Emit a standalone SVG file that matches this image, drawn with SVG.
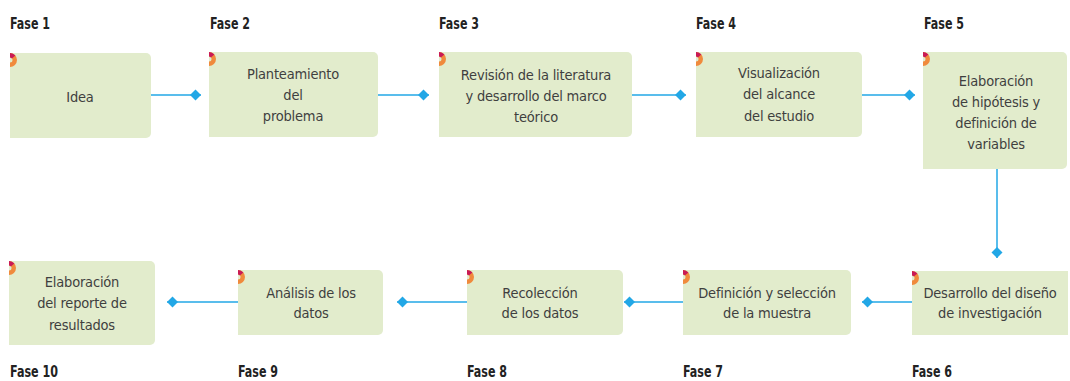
<svg xmlns="http://www.w3.org/2000/svg" width="1070" height="381" viewBox="0 0 1070 381">
<style>
.box{fill:#e2eccc}
.t{font-family:"DejaVu Sans Condensed","DejaVu Sans",sans-serif;font-stretch:condensed;font-size:14.5px;letter-spacing:-0.2px;fill:#3f3f3f;text-anchor:middle}
.f{font-family:"DejaVu Sans Condensed","DejaVu Sans",sans-serif;font-stretch:condensed;font-weight:bold;font-size:16px;fill:#222}
.c{fill:none;stroke:#22a7e6;stroke-width:1.5}
.o{fill:#f08a3c}
.m{fill:#c91a55}
</style>
<defs>
<marker id="d" markerUnits="userSpaceOnUse" markerWidth="14" markerHeight="14" viewBox="0 -7 14 14" refX="12" refY="0" orient="auto">
<path d="M1,0 L6.5,-5.5 L12,0 L6.5,5.5 Z" fill="#22a7e6"/>
</marker>
<g id="mk">
<path class="o" d="M0,-7 A7,7 0 0 1 0,7 L0,2.5 A2.5,2.5 0 0 0 0,-2.5 Z"/>
<path class="m" d="M0,-7 A7,7 0 0 1 5.4,-4.5 L1.9,-1.6 A2.5,2.5 0 0 0 0,-2.5 Z"/>
</g>
</defs>
<g id="connectors">
<path class="c" d="M151,95 H201" marker-end="url(#d)"/>
<path class="c" d="M378,95 H429" marker-end="url(#d)"/>
<path class="c" d="M632,95 H686" marker-end="url(#d)"/>
<path class="c" d="M862,95 H915" marker-end="url(#d)"/>
<path class="c" d="M997,169 V258" marker-end="url(#d)"/>
<path class="c" d="M912,302 H862" marker-end="url(#d)"/>
<path class="c" d="M683,302 H624" marker-end="url(#d)"/>
<path class="c" d="M467,302 H397" marker-end="url(#d)"/>
<path class="c" d="M238,302 H167" marker-end="url(#d)"/>
</g>
<g id="fase1">
<text class="f" x="10" y="29" textLength="40" lengthAdjust="spacingAndGlyphs">Fase 1</text>
<path class="box" d="M10,53 H146 A5,5 0 0 1 151,58 V133 A5,5 0 0 1 146,138 H10 Z"/>
<use href="#mk" x="10" y="60"/>
<text class="t" x="80" y="102">Idea</text>
</g>
<g id="fase2">
<text class="f" x="210" y="29" textLength="40" lengthAdjust="spacingAndGlyphs">Fase 2</text>
<path class="box" d="M209,52 H373 A5,5 0 0 1 378,57 V132 A5,5 0 0 1 373,137 H209 Z"/>
<use href="#mk" x="209" y="59"/>
<text class="t" x="293" y="79">Planteamiento</text>
<text class="t" x="293" y="100">del</text>
<text class="t" x="293" y="121">problema</text>
</g>
<g id="fase3">
<text class="f" x="439" y="29" textLength="40" lengthAdjust="spacingAndGlyphs">Fase 3</text>
<path class="box" d="M439,52 H627 A5,5 0 0 1 632,57 V132 A5,5 0 0 1 627,137 H439 Z"/>
<use href="#mk" x="439" y="59"/>
<text class="t" x="536" y="80">Revisión de la literatura</text>
<text class="t" x="536" y="101">y desarrollo del marco</text>
<text class="t" x="536" y="122">teórico</text>
</g>
<g id="fase4">
<text class="f" x="696" y="29" textLength="40" lengthAdjust="spacingAndGlyphs">Fase 4</text>
<path class="box" d="M696,52 H857 A5,5 0 0 1 862,57 V132 A5,5 0 0 1 857,137 H696 Z"/>
<use href="#mk" x="696" y="59"/>
<text class="t" x="779" y="78">Visualización</text>
<text class="t" x="779" y="99">del alcance</text>
<text class="t" x="779" y="121">del estudio</text>
</g>
<g id="fase5">
<text class="f" x="924" y="29" textLength="40" lengthAdjust="spacingAndGlyphs">Fase 5</text>
<path class="box" d="M923,52 H1062 A5,5 0 0 1 1067,57 V164 A5,5 0 0 1 1062,169 H923 Z"/>
<use href="#mk" x="923" y="59"/>
<text class="t" x="996" y="86">Elaboración</text>
<text class="t" x="996" y="107">de hipótesis y</text>
<text class="t" x="996" y="128">definición de</text>
<text class="t" x="996" y="149">variables</text>
</g>
<g id="fase6">
<text class="f" x="912" y="377" textLength="40" lengthAdjust="spacingAndGlyphs">Fase 6</text>
<path class="box" d="M912,271 H1068 V335 H912 Z"/>
<use href="#mk" x="912" y="278"/>
<text class="t" x="990" y="298">Desarrollo del diseño</text>
<text class="t" x="990" y="318">de investigación</text>
</g>
<g id="fase7">
<text class="f" x="683" y="377" textLength="40" lengthAdjust="spacingAndGlyphs">Fase 7</text>
<path class="box" d="M683,270 H846 A5,5 0 0 1 851,275 V330 A5,5 0 0 1 846,335 H683 Z"/>
<use href="#mk" x="683" y="277"/>
<text class="t" x="767" y="298">Definición y selección</text>
<text class="t" x="767" y="318">de la muestra</text>
</g>
<g id="fase8">
<text class="f" x="467" y="377" textLength="40" lengthAdjust="spacingAndGlyphs">Fase 8</text>
<path class="box" d="M467,270 H618 A5,5 0 0 1 623,275 V330 A5,5 0 0 1 618,335 H467 Z"/>
<use href="#mk" x="467" y="277"/>
<text class="t" x="540" y="298">Recolección</text>
<text class="t" x="540" y="318">de los datos</text>
</g>
<g id="fase9">
<text class="f" x="238" y="377" textLength="40" lengthAdjust="spacingAndGlyphs">Fase 9</text>
<path class="box" d="M238,270 H378 A5,5 0 0 1 383,275 V330 A5,5 0 0 1 378,335 H238 Z"/>
<use href="#mk" x="238" y="277"/>
<text class="t" x="311" y="298">Análisis de los</text>
<text class="t" x="311" y="318">datos</text>
</g>
<g id="fase10">
<text class="f" x="10" y="377" textLength="48" lengthAdjust="spacingAndGlyphs">Fase 10</text>
<path class="box" d="M9,261 H150 A5,5 0 0 1 155,266 V340 A5,5 0 0 1 150,345 H9 Z"/>
<use href="#mk" x="9" y="268"/>
<text class="t" x="82" y="287">Elaboración</text>
<text class="t" x="82" y="308">del reporte de</text>
<text class="t" x="82" y="330">resultados</text>
</g>
</svg>
